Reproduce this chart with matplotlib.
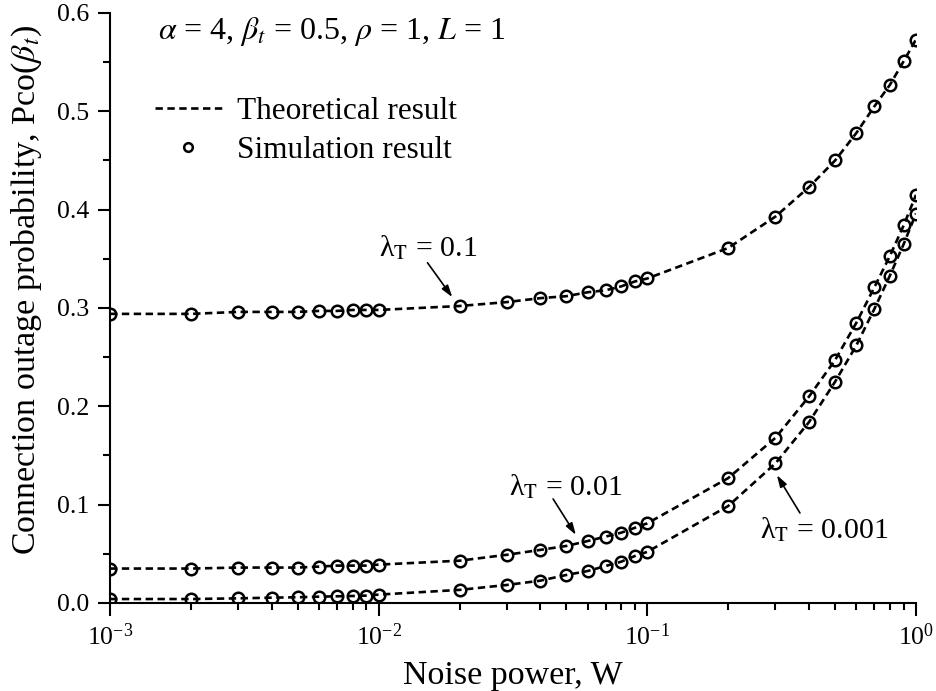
import matplotlib
matplotlib.use("Agg")
import matplotlib.pyplot as plt
from matplotlib.ticker import MultipleLocator, FormatStrFormatter

plt.rcParams['font.family'] = ['Liberation Serif', 'DejaVu Serif']
plt.rcParams['mathtext.fontset'] = 'stix'
plt.rcParams['axes.unicode_minus'] = False

# noise power samples (W)
noise = [0.001, 0.002, 0.003, 0.004, 0.005, 0.006, 0.007, 0.008, 0.009,
         0.01, 0.02, 0.03, 0.04, 0.05, 0.06, 0.07, 0.08, 0.09,
         0.1, 0.2, 0.3, 0.4, 0.5, 0.6, 0.7, 0.8, 0.9, 1.0]

# outage probability for each lambda_T
p_01 = [0.294, 0.294, 0.296, 0.296, 0.296, 0.297, 0.297, 0.298, 0.298,
        0.298, 0.302, 0.306, 0.310, 0.312, 0.316, 0.318, 0.322, 0.327,
        0.330, 0.361, 0.393, 0.423, 0.450, 0.478, 0.505, 0.527, 0.551, 0.573]
p_001 = [0.035, 0.035, 0.036, 0.036, 0.036, 0.037, 0.038, 0.038, 0.038,
         0.039, 0.043, 0.049, 0.054, 0.058, 0.063, 0.0675, 0.0715, 0.0765,
         0.081, 0.127, 0.168, 0.210, 0.247, 0.285, 0.321, 0.353, 0.384, 0.415]
p_0001 = [0.004, 0.004, 0.0047, 0.0054, 0.0058, 0.0064, 0.0068, 0.0071, 0.0075,
          0.0085, 0.0133, 0.0183, 0.0227, 0.0285, 0.0325, 0.0376, 0.042, 0.0478,
          0.052, 0.0986, 0.142, 0.184, 0.225, 0.262, 0.299, 0.333, 0.365, 0.396]

curves = [p_01, p_001, p_0001]

fig = plt.figure(figsize=(9.36, 6.91), dpi=100)
ax = fig.add_axes([0.1175, 0.1274, 0.8611, 0.8538])

dash = (0, (2.8, 1.7))
for i, p in enumerate(curves):
    ax.plot(noise, p, color='k', lw=1.9, linestyle=dash,
            label='Theoretical result' if i == 0 else None)
    ax.plot(noise, p, 'o', color='k', mfc='none', mew=1.8, ms=8.3,
            label='Simulation result' if i == 0 else None)

ax.set_xscale('log')
ax.set_xlim(1e-3, 1)
ax.set_ylim(0, 0.6)
ax.yaxis.set_major_locator(MultipleLocator(0.1))
ax.yaxis.set_minor_locator(MultipleLocator(0.05))
ax.yaxis.set_major_formatter(FormatStrFormatter('%.1f'))

for s in ['top', 'right']:
    ax.spines[s].set_visible(False)
for s in ['left', 'bottom']:
    ax.spines[s].set_linewidth(1.5)

ax.tick_params(which='major', direction='out', length=9, width=1.5,
               labelsize=18.5, pad=6)
ax.tick_params(which='minor', direction='out', length=5, width=1.5)

ax.set_xlabel('Noise power, W', fontsize=24.5, labelpad=7)
ax.set_ylabel(r'Connection outage probability, Pco($\beta_t$)', fontsize=24.5)
ax.yaxis.set_label_coords(-0.082, 0.5305)

ax.text(0.0596, 0.968, r'$\alpha$ = 4, $\beta_t$ = 0.5, $\rho$ = 1, $L$ = 1',
        transform=ax.transAxes, fontsize=23, va='center', ha='left')

leg = ax.legend(loc='upper left', bbox_to_anchor=(0.0558, 0.858), frameon=False,
                fontsize=22.5, handlelength=2.14, handletextpad=0.48,
                borderpad=0, borderaxespad=0, labelspacing=0.34,
                markerscale=0.75)

arrow = dict(arrowstyle='-|>,head_length=0.7,head_width=0.22', color='k',
             lw=1.2, shrinkA=0, shrinkB=0)

ax.text(0.01526, 0.361, r'λ$_\mathrm{T}$ = 0.1', fontsize=21.5,
        ha='center', va='center')
ax.annotate('', xy=(0.0188, 0.311), xytext=(0.0152, 0.346), arrowprops=arrow)

ax.text(0.0498, 0.118, r'λ$_\mathrm{T}$ = 0.01', fontsize=21.5,
        ha='center', va='center')
ax.annotate('', xy=(0.0542, 0.0692), xytext=(0.0446, 0.1058), arrowprops=arrow)

ax.text(0.4543, 0.0742, r'λ$_\mathrm{T}$ = 0.001', fontsize=21.5,
        ha='center', va='center')
ax.annotate('', xy=(0.3036, 0.130), xytext=(0.370, 0.0915), arrowprops=arrow)

fig.savefig('out.png', dpi=100)
